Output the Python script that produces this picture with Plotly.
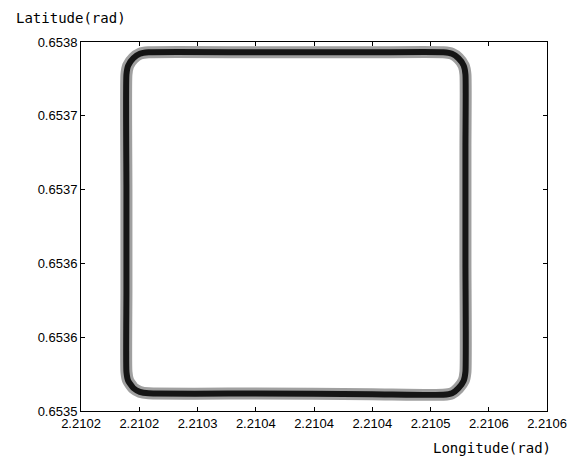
import plotly.graph_objects as go

# Trajectory waypoints (longitude, latitude in rad)
lon = [
    2.210258, 2.210350, 2.210450, 2.210511,
    2.2105185, 2.210524, 2.2105285, 2.210530,
    2.210530, 2.210530, 2.210530,
    2.2105285, 2.210524, 2.2105185, 2.210511,
    2.210450, 2.210350, 2.210258,
    2.2102505, 2.210245, 2.2102405, 2.210239,
    2.210239, 2.210239, 2.210239,
    2.2102405, 2.210245, 2.2102505, 2.210258,
]
lat = [
    0.653512, 0.6535118, 0.6535114, 0.653511,
    0.653512, 0.6535155, 0.6535205, 0.6535265,
    0.653600, 0.653680, 0.6537280,
    0.6537340, 0.653739, 0.653742, 0.653743,
    0.653743, 0.653743, 0.653743,
    0.653742, 0.653739, 0.6537340, 0.6537280,
    0.653650, 0.653580, 0.6535265,
    0.6535205, 0.6535155, 0.653513, 0.653512,
]

x_tickvals = [2.21020, 2.21025, 2.21030, 2.21035, 2.21040, 2.21045, 2.21050, 2.21055, 2.21060]
x_ticktext = ["2.2102", "2.2102", "2.2103", "2.2104", "2.2104", "2.2104", "2.2105", "2.2106", "2.2106"]
y_tickvals = [0.65350, 0.65355, 0.65360, 0.65365, 0.65370, 0.65375]
y_ticktext = ["0.6535", "0.6536", "0.6536", "0.6537", "0.6537", "0.6538"]

fig = go.Figure()
fig.add_trace(go.Scatter(x=lon, y=lat, mode="lines",
                         line=dict(color="#a0a0a0", width=12, shape="spline", smoothing=0.5),
                         hoverinfo="skip", showlegend=False))
fig.add_trace(go.Scatter(x=lon, y=lat, mode="lines",
                         line=dict(color="#151515", width=6, shape="spline", smoothing=0.5),
                         showlegend=False))

axis_common = dict(
    showgrid=False, zeroline=False, showline=True, linecolor="black", linewidth=1,
    mirror="ticks", ticks="inside", ticklen=4, tickcolor="black", tickwidth=1,
    tickfont=dict(family="Liberation Sans", size=13, color="black"),
)
fig.update_xaxes(range=[2.21020, 2.21060], tickvals=x_tickvals, ticktext=x_ticktext, **axis_common)
fig.update_yaxes(range=[0.65350, 0.65375], tickvals=y_tickvals, ticktext=y_ticktext, **axis_common)

fig.update_layout(
    width=579, height=459,
    margin=dict(l=81, r=27, t=42, b=48),
    paper_bgcolor="white", plot_bgcolor="white",
    annotations=[
        dict(text="Latitude(rad)", xref="paper", yref="paper", x=-0.1444, y=1.065,
             xanchor="left", yanchor="middle", showarrow=False,
             font=dict(family="DejaVu Sans Mono", size=14, color="black")),
        dict(text="Longitude(rad)", xref="paper", yref="paper", x=1.0127, y=-0.100,
             xanchor="right", yanchor="middle", showarrow=False,
             font=dict(family="DejaVu Sans Mono", size=14, color="black")),
    ],
)

fig.write_html("out.html")
